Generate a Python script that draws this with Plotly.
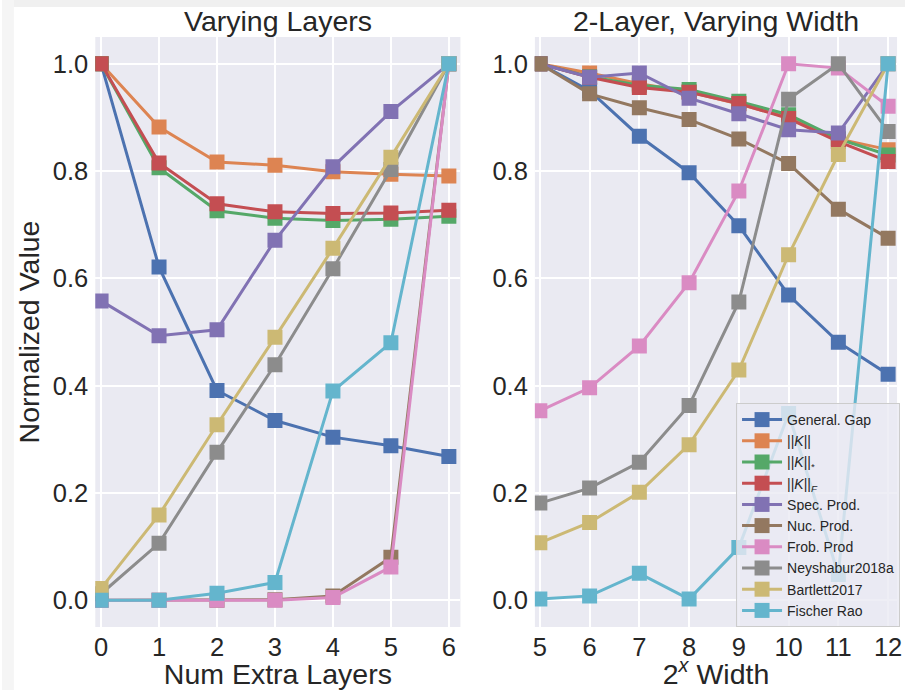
import plotly.graph_objects as go

names = ["General. Gap", "||<i>K</i>||", "||<i>K</i>||<sub>*</sub>", "||<i>K</i>||<sub><i>F</i></sub>",
         "Spec. Prod.", "Nuc. Prod.", "Frob. Prod", "Neyshabur2018a", "Bartlett2017", "Fischer Rao"]
colors = ["#4C72B0", "#DD8452", "#55A868", "#C44E52", "#8172B3", "#937860", "#DA8BC3", "#8C8C8C", "#CCB974", "#64B5CD"]

layers = [0, 1, 2, 3, 4, 5, 6]
left_gen_gap = [1.0, 0.621, 0.391, 0.335, 0.304, 0.288, 0.268]
left_k = [1.0, 0.882, 0.817, 0.811, 0.799, 0.794, 0.791]
left_k_star = [1.0, 0.806, 0.726, 0.712, 0.708, 0.710, 0.716]
left_k_f = [1.0, 0.815, 0.739, 0.724, 0.721, 0.722, 0.727]
left_spec = [0.558, 0.493, 0.504, 0.671, 0.808, 0.911, 1.0]
left_nuc = [0.0, 0.0, 0.0, 0.001, 0.008, 0.080, 1.0]
left_frob = [0.0, 0.0, 0.0, 0.0, 0.005, 0.062, 1.0]
left_neysh = [0.012, 0.106, 0.276, 0.439, 0.618, 0.803, 1.0]
left_bartlett = [0.022, 0.159, 0.327, 0.490, 0.656, 0.826, 1.0]
left_fisher = [0.0, 0.0, 0.013, 0.033, 0.390, 0.480, 1.0]

widths = [5, 6, 7, 8, 9, 10, 11, 12]
right_gen_gap = [1.0, 0.950, 0.865, 0.797, 0.698, 0.569, 0.481, 0.421]
right_k = [1.0, 0.983, 0.963, 0.948, 0.925, 0.900, 0.860, 0.840]
right_k_star = [1.0, 0.976, 0.960, 0.952, 0.930, 0.905, 0.860, 0.830]
right_k_f = [1.0, 0.975, 0.956, 0.947, 0.926, 0.898, 0.855, 0.818]
right_spec = [1.0, 0.975, 0.983, 0.936, 0.907, 0.877, 0.871, 1.0]
right_nuc = [1.0, 0.944, 0.918, 0.896, 0.860, 0.814, 0.729, 0.675]
right_frob = [0.353, 0.396, 0.474, 0.592, 0.763, 1.0, 0.992, 0.921]
right_neysh = [0.181, 0.209, 0.257, 0.363, 0.556, 0.934, 1.0, 0.874]
right_bartlett = [0.107, 0.145, 0.201, 0.290, 0.429, 0.644, 0.831, 1.0]
right_fisher = [0.002, 0.008, 0.050, 0.002, 0.098, 0.348, 0.048, 1.0]

left_series = [left_gen_gap, left_k, left_k_star, left_k_f, left_spec, left_nuc, left_frob, left_neysh, left_bartlett, left_fisher]
right_series = [right_gen_gap, right_k, right_k_star, right_k_f, right_spec, right_nuc, right_frob, right_neysh, right_bartlett, right_fisher]

FONT = "Liberation Sans, Arial, sans-serif"
TXT = "#262626"
TICK_SIZE = 25.5
LABEL_SIZE = 28.5

fig = go.Figure()
for i, (n, c) in enumerate(zip(names, colors)):
    fig.add_trace(go.Scatter(x=layers, y=left_series[i], mode="lines+markers", name=n,
                             line=dict(color=c, width=3), marker=dict(symbol="square", size=15, color=c),
                             xaxis="x", yaxis="y", showlegend=False, legendgroup=n))
for i, (n, c) in enumerate(zip(names, colors)):
    fig.add_trace(go.Scatter(x=widths, y=right_series[i], mode="lines+markers", name=n,
                             line=dict(color=c, width=3), marker=dict(symbol="square", size=15, color=c),
                             xaxis="x2", yaxis="y2", showlegend=True, legendgroup=n))

W, H = 910, 690
ydom = [1 - 627 / H, 1 - 37 / H]
axis_common = dict(showgrid=True, gridcolor="white", gridwidth=1.5, zeroline=False, showline=False,
                   ticks="", tickfont=dict(size=TICK_SIZE, color=TXT, family=FONT))

fig.update_layout(
    width=W, height=H,
    margin=dict(l=0, r=0, t=0, b=0),
    paper_bgcolor="white", plot_bgcolor="#EAEAF2",
    font=dict(family=FONT, color=TXT),
    xaxis=dict(domain=[94 / W, 462 / W], range=[-0.1, 6.2], tickvals=layers, anchor="y",
               title=dict(text="Num Extra Layers", font=dict(size=LABEL_SIZE, color=TXT), standoff=0),
               ticklabelstandoff=2, **axis_common),
    yaxis=dict(domain=ydom, range=[-0.05, 1.05], tickvals=[0, 0.2, 0.4, 0.6, 0.8, 1.0], tickformat=".1f",
               anchor="x", title=dict(text="Normalized Value", font=dict(size=LABEL_SIZE, color=TXT), standoff=4),
               ticklabelstandoff=6, **axis_common),
    xaxis2=dict(domain=[537 / W, 902 / W], range=[4.9, 12.18], tickvals=widths, anchor="y2",
                title=dict(text="2<sup><i>x</i></sup> Width", font=dict(size=LABEL_SIZE, color=TXT), standoff=0),
                ticklabelstandoff=2, **axis_common),
    yaxis2=dict(domain=ydom, range=[-0.05, 1.05], tickvals=[0, 0.2, 0.4, 0.6, 0.8, 1.0], tickformat=".1f",
                anchor="x2", ticklabelstandoff=6, **axis_common),
    legend=dict(x=905 / W, y=1 - 627 / H, xanchor="right", yanchor="bottom",
                bgcolor="rgba(234,234,242,0.8)", bordercolor="#CCCCCC", borderwidth=1,
                font=dict(size=14, color=TXT, family=FONT), tracegroupgap=0, itemwidth=40),
    annotations=[
        dict(text="Varying Layers", x=(94 + 462) / 2 / W, y=1 - 21 / H, xref="paper", yref="paper",
             showarrow=False, font=dict(size=LABEL_SIZE, color=TXT), xanchor="center", yanchor="middle"),
        dict(text="2-Layer, Varying Width", x=(537 + 902) / 2 / W, y=1 - 21 / H, xref="paper", yref="paper",
             showarrow=False, font=dict(size=LABEL_SIZE, color=TXT), xanchor="center", yanchor="middle"),
    ],
    shapes=[
        dict(type="rect", xref="paper", yref="paper", x0=0, x1=1, y0=1 - 7 / H, y1=1,
             fillcolor="#F0F0F0", line=dict(width=0), layer="below"),
        dict(type="rect", xref="paper", yref="paper", x0=0, x1=12 / W, y0=0, y1=1,
             fillcolor="#F5F5F5", line=dict(width=0), layer="below"),
    ],
)

fig.write_html("out.html")
